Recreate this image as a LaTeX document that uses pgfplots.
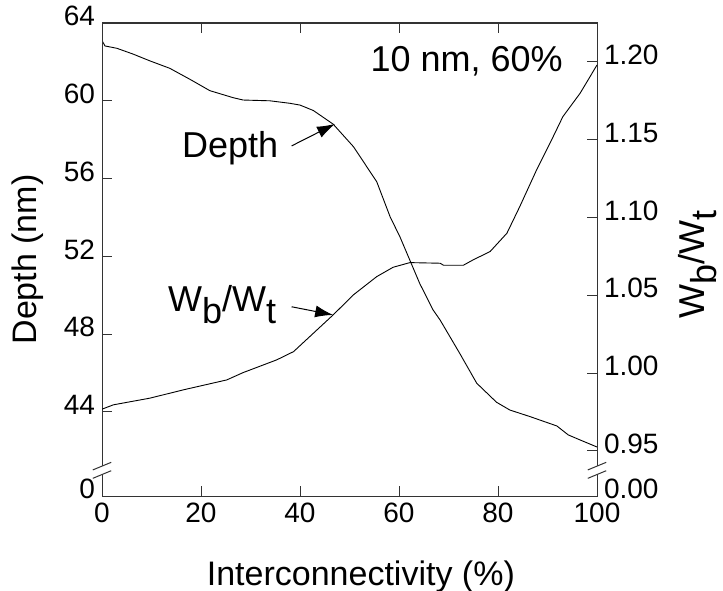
\documentclass[border=0pt]{standalone}
\usepackage{fontspec}
\setmainfont{Liberation Sans}
\usepackage{pgfplots}
\pgfplotsset{compat=1.18}
\usetikzlibrary{arrows.meta}

% subscripts in the original are nearly full size, just dropped
\newcommand\lsub[1]{\raisebox{-0.33em}{#1}}

\pgfplotstableread{
x     d
0     63.10
0.6   62.82
3.0   62.70
6.3   62.40
9.7   62.05
13.7  61.67
17.8  61.10
21.8  60.52
26.5  60.16
28.5  60.04
33.9  60.00
38.0  59.87
40.0  59.78
42.7  59.50
46.7  58.80
50.8  57.64
55.5  55.84
58.2  54.04
60.2  53.00
62.2  51.80
64.2  50.60
66.9  49.24
68.3  48.73
72.3  47.00
75.7  45.48
79.7  44.50
82.4  44.10
86.5  43.76
91.9  43.28
94.2  42.82
96.6  42.56
100   42.20
}\depthdata

\pgfplotstableread{
x     w
0     0.9768
2.3   0.9796
9.7   0.9839
16.4  0.9892
25.2  0.9956
28.5  1.0003
35.3  1.0085
38.7  1.0138
42.7  1.0256
46.7  1.0374
50.8  1.0503
55.5  1.0620
58.8  1.0680
62.2  1.0710
68.3  1.0706
69.0  1.0693
73.0  1.0693
75.0  1.0728
78.4  1.0781
81.8  1.0899
84.4  1.1070
87.8  1.1306
90.5  1.1477
93.1  1.1648
96.6  1.1799
100   1.1980
}\ratiodata

\begin{document}
\begin{tikzpicture}
\useasboundingbox (0,0) rectangle (361.5pt,295pt);
\pgfplotsset{
  every axis/.append style={
    scale only axis, width=247.5pt, height=236.5pt,
    at={(51pt,47pt)}, anchor=south west,
    xmin=0, xmax=100,
    tick align=inside,
    major tick length=5pt,
    tick style={black!80, line width=0.5pt},
    axis line style={black!80, line width=0.5pt},
    tick label style={font=\fontsize{14}{16}\selectfont},
    yticklabel style={yshift=3.5pt},
    /pgf/number format/assume math mode=true,
  },
}
\begin{axis}[
  ymin=39.68, ymax=64,
  xtick={0,20,...,100},
  ytick={39.68,44,48,52,56,60,64},
  yticklabels={0,44,48,52,56,60,64},
  ytick pos=left,
  xlabel={Interconnectivity (\%)},
  ylabel={Depth (nm)},
  xlabel style={font=\fontsize{17}{20}\selectfont, at={(axis description cs:0.523,0)}, anchor=base, yshift=-44.5pt},
  ylabel style={font=\fontsize{17}{20}\selectfont, at={(axis description cs:0,0.5)}, anchor=center, yshift=37pt},
]
\addplot[black, line width=0.45pt] table[x=x, y=d] {\depthdata};

\node[anchor=base east, font=\fontsize{18}{21}\selectfont] at (axis cs:94.5,61.5) {10 nm, 60\%};
\node[anchor=base east, font=\fontsize{18}{21}\selectfont] at (axis cs:37,57.06) {Depth};
\draw[-{Latex[length=9pt,width=6pt]}, line width=0.5pt] (axis cs:38.3,57.68) -- (axis cs:47.07,58.81);
\node[anchor=base east, font=\fontsize{18}{21}\selectfont] at (axis cs:36.6,49.16) {W\lsub{b}/W\lsub{t}};
\draw[-{Latex[length=9pt,width=6pt]}, line width=0.5pt] (axis cs:38.3,49.41) -- (axis cs:46.7,48.99);

\coordinate (bl) at (axis cs:0,41);
\coordinate (br) at (axis cs:100,41);
\end{axis}

\begin{axis}[
  ymin=0.921, ymax=1.225,
  xtick=\empty,
  ytick={0.921,0.95,1.00,1.05,1.10,1.15,1.20},
  yticklabels={0.00,0.95,1.00,1.05,1.10,1.15,1.20},
  ytick pos=right, yticklabel pos=right,
  ylabel={W\lsub{b}/W\lsub{t}},
  ylabel style={font=\fontsize{18}{21}\selectfont, at={(axis description cs:1,0.49)}, anchor=center, yshift=-50.5pt},
]
\addplot[black, line width=0.45pt] table[x=x, y=w] {\ratiodata};
\end{axis}

% broken-axis marks
\foreach \c in {bl,br} {
  \fill[white] ([shift={(-1pt,-2.1pt)}]\c) rectangle ([shift={(1pt,2.1pt)}]\c);
  \draw[black!80, line width=0.5pt] ([shift={(-4.6pt,0.2pt)}]\c) -- ([shift={(4.6pt,4.0pt)}]\c);
  \draw[black!80, line width=0.5pt] ([shift={(-4.6pt,-4.0pt)}]\c) -- ([shift={(4.6pt,-0.2pt)}]\c);
}
\end{tikzpicture}
\end{document}
